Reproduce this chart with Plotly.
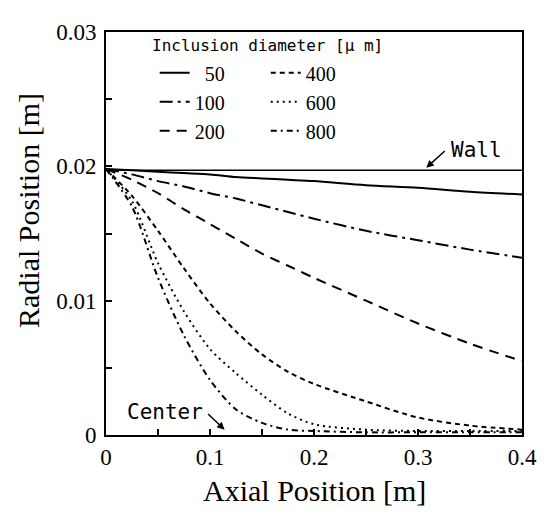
import plotly.graph_objects as go

# ---- data ----
x_grid = [0.0, 0.025, 0.05, 0.075, 0.1, 0.125, 0.15, 0.175, 0.2, 0.25, 0.3, 0.35, 0.4]

r_50 = [0.0198, 0.0197, 0.0196, 0.0195, 0.0194, 0.0192, 0.0191, 0.0190, 0.0189, 0.0186, 0.0184, 0.0181, 0.0179]
r_100 = [0.0198, 0.0194, 0.0189, 0.0185, 0.0180, 0.0176, 0.0171, 0.0166, 0.0161, 0.0152, 0.0145, 0.0138, 0.0132]
r_200 = [0.0198, 0.0190, 0.0180, 0.0168, 0.0157, 0.0146, 0.0135, 0.0126, 0.0117, 0.0100, 0.0083, 0.0068, 0.0055]
r_400 = [0.0198, 0.0178, 0.0152, 0.0124, 0.0098, 0.0077, 0.0060, 0.0047, 0.0038, 0.0025, 0.0013, 0.0007, 0.0004]
r_600 = [0.0198, 0.0174, 0.0128, 0.0092, 0.0064, 0.0046, 0.0030, 0.0016, 0.0008, 0.0004, 0.0003, 0.0003, 0.0003]
r_800 = [0.0198, 0.0170, 0.0117, 0.0074, 0.0041, 0.0019, 0.0009, 0.0004, 0.0003, 0.0002, 0.0002, 0.0002, 0.0002]

wall_x = [0.0, 0.4]
wall_r = [0.0197, 0.0197]

diam_labels = ["\u200750", "100", "200", "400", "600", "800"]
x_ticks = [0, 0.1, 0.2, 0.3, 0.4]
y_ticks = [0, 0.01, 0.02, 0.03]

series = [r_50, r_100, r_200, r_400, r_600, r_800]
dashes = ["solid", "13px,5px,3px,5px", "10px,7px", "5px,4px", "2px,4px", "6px,4px,2px,4px"]
legend_ids = ["legend", "legend", "legend", "legend2", "legend2", "legend2"]

fig = go.Figure()

fig.add_trace(go.Scatter(x=wall_x, y=wall_r, mode="lines",
                         line=dict(color="black", width=1.5),
                         showlegend=False, hoverinfo="skip"))

for lab, ys, d, lg in zip(diam_labels, series, dashes, legend_ids):
    fig.add_trace(go.Scatter(x=x_grid, y=ys, mode="lines", name=lab, legend=lg,
                             line=dict(color="black", width=2, dash=d, shape="spline", smoothing=0.8)))

serif = "Liberation Serif"
mono = "DejaVu Sans Mono"

arrow = dict(showarrow=True, arrowhead=2, arrowsize=1, arrowwidth=1.5,
             arrowcolor="black", text="", xref="x", yref="y", standoff=0)

legend_common = dict(
    orientation="v", xanchor="left", yanchor="top",
    bgcolor="rgba(0,0,0,0)", itemwidth=30, tracegroupgap=0,
    font=dict(family=serif, size=20, color="black"),
)

fig.update_layout(
    width=541, height=507,
    margin=dict(l=98, r=26, t=15, b=75),
    paper_bgcolor="white", plot_bgcolor="white",
    font=dict(family=serif, color="black", size=22),
    showlegend=True,
    legend=dict(legend_common, x=0.117, y=0.947),
    legend2=dict(legend_common, x=0.384, y=0.947),
    xaxis=dict(
        range=[0, 0.4], tickvals=x_ticks, ticktext=["0", "0.1", "0.2", "0.3", "0.4"],
        showgrid=False, zeroline=False,
        showline=True, linecolor="black", linewidth=2, mirror=True,
        ticks="inside", ticklen=6, tickcolor="black", tickwidth=1.5,
        minor=dict(dtick=0.05, ticks="inside", ticklen=6, tickcolor="black", tickwidth=1.5),
        tickfont=dict(family=serif, size=23),
        title=dict(text=""),
    ),
    yaxis=dict(
        range=[0, 0.03], tickvals=y_ticks, ticktext=["0", "0.01", "0.02", "0.03"],
        showgrid=False, zeroline=False,
        showline=True, linecolor="black", linewidth=2, mirror=True,
        ticks="inside", ticklen=6, tickcolor="black", tickwidth=1.5,
        minor=dict(dtick=0.005, ticks="inside", ticklen=6, tickcolor="black", tickwidth=1.5),
        tickfont=dict(family=serif, size=23),
        ticklabelstandoff=3,
        title=dict(text=""),
    ),
    annotations=[
        dict(x=0.1055, y=0.967, xref="paper", yref="paper", text="Inclusion diameter [μ m]",
             showarrow=False, xanchor="left", yanchor="middle",
             font=dict(family=mono, size=16, color="black")),
        dict(x=0.5, y=-0.137, xref="paper", yref="paper", text="Axial Position [m]",
             showarrow=False, xanchor="center", yanchor="middle",
             font=dict(family=serif, size=30, color="black")),
        dict(x=-0.185, y=0.556, xref="paper", yref="paper", text="Radial Position [m]",
             showarrow=False, xanchor="center", yanchor="middle", textangle=-90,
             font=dict(family=serif, size=30, color="black")),
        dict(x=0.356, y=0.0212, xref="x", yref="y", text="Wall", showarrow=False,
             xanchor="center", yanchor="middle",
             font=dict(family=mono, size=21, color="black")),
        dict(x=0.0566, y=0.00173, xref="x", yref="y", text="Center", showarrow=False,
             xanchor="center", yanchor="middle",
             font=dict(family=mono, size=21, color="black")),
        dict(arrow, x=0.308, y=0.0199, ax=20, ay=-18),
        dict(arrow, x=0.114, y=0.0004, ax=-18, ay=-17),
    ],
)

fig.write_html("out.html")
